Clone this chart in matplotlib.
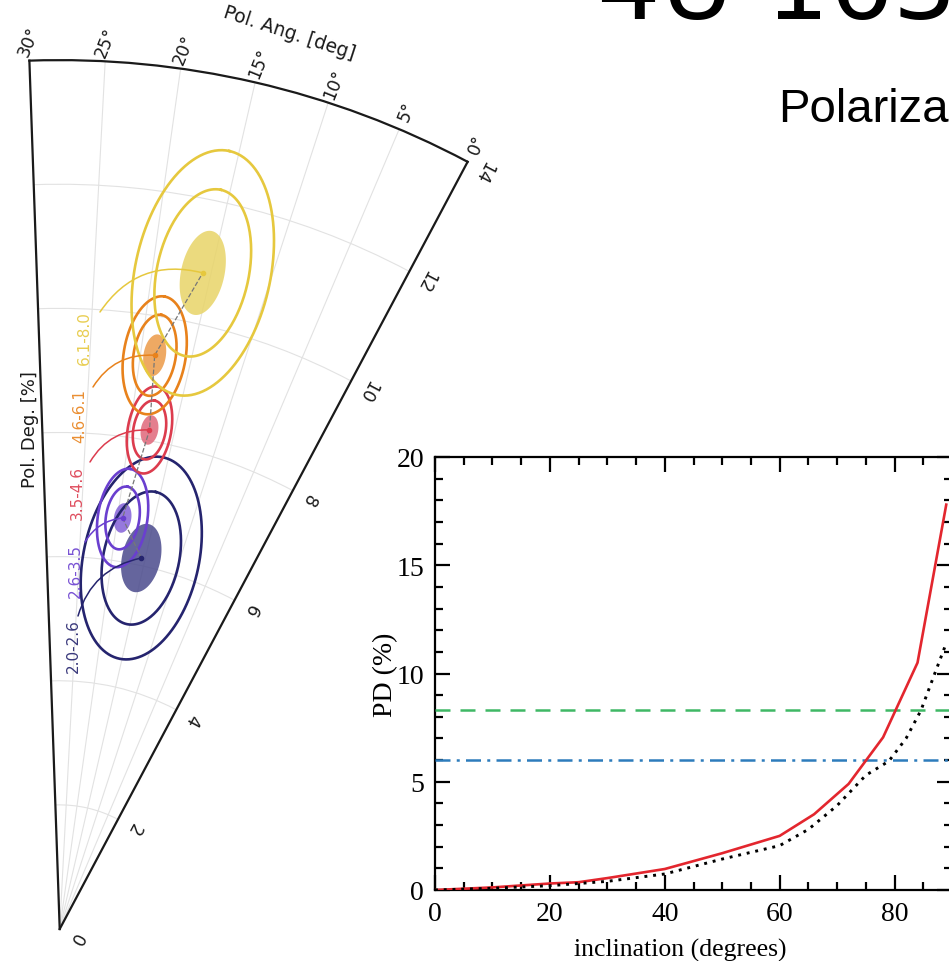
import numpy as np
import matplotlib
matplotlib.use("Agg")
import matplotlib.pyplot as plt
from matplotlib.transforms import offset_copy

# ---------------- data: polarization wedge ----------------
bins = ["2.0-2.6", "2.6-3.5", "3.5-4.6", "4.6-6.1", "6.1-8.0"]
pol_deg = [6.12, 6.70, 8.17, 9.37, 10.82]          # PD [%]
pol_ang = [15.6, 19.3, 17.8, 18.6, 15.7]           # PA [deg]
# semi-axes (radial, tangential) in PD units for the filled, inner and outer contours
fill_axes = [(0.56, 0.31), (0.24, 0.14), (0.24, 0.14), (0.34, 0.18), (0.69, 0.35)]
inner_axes = [(1.09, 0.61), (0.51, 0.27), (0.48, 0.26), (0.66, 0.34), (1.37, 0.74)]
outer_axes = [(1.66, 0.93), (0.80, 0.40), (0.71, 0.35), (0.96, 0.50), (2.01, 1.09)]
line_colors = ["#25246e", "#6a3fcf", "#dc3c4e", "#e8821c", "#e6c83e"]
fill_colors = ["#4a4a8c", "#8462d8", "#e0677a", "#ec9a48", "#e8d468"]

theta_ticks = [0, 5, 10, 15, 20, 25, 30]
r_ticks = [0, 2, 4, 6, 8, 10, 12, 14]

# ---------------- data: PD vs inclination ----------------
incl_red = [0, 10, 20, 25, 30, 40, 50, 60, 66, 72, 78, 84, 89]
pd_red = [0.0, 0.12, 0.3, 0.36, 0.55, 0.97, 1.7, 2.5, 3.5, 4.9, 7.05, 10.5, 17.8]
incl_dot = [0, 10, 20, 30, 40, 50, 60, 65, 70, 75, 79, 82, 84.6, 87, 89]
pd_dot = [0.0, 0.08, 0.2, 0.4, 0.74, 1.43, 2.05, 2.8, 3.9, 5.3, 5.95, 7.0, 8.3, 10.0, 11.4]
pd_green = 8.3
pd_blue = 6.0

W, H = 949, 962
fig = plt.figure(figsize=(W / 100, H / 100), dpi=100)

# ================= polar wedge =================
side = 871.0
cx, cy = 248.5, 494.5
ax = fig.add_axes([(cx - side / 2) / W, (H - cy - side / 2) / H, side / W, side / H],
                  projection="polar")
ax.set_thetamin(0)
ax.set_thetamax(30)
ax.set_theta_offset(np.deg2rad(62))
ax.set_rlim(0, 14)
ax.set_xticks(np.deg2rad(theta_ticks))
ax.set_xticklabels([""] * len(theta_ticks))
ax.set_yticks(r_ticks)
ax.set_yticklabels([""] * len(r_ticks))
ax.grid(True, color="#e2e2e2", lw=0.8)
for sp in ax.spines.values():
    sp.set_linewidth(1.6)
    sp.set_color("#1a1a1a")
ax.tick_params(length=0)


def ellipse(pa_deg, pd, ar, at, n=240):
    th = np.deg2rad(pa_deg)
    t = np.linspace(0, 2 * np.pi, n)
    ur = np.array([np.cos(th), np.sin(th)])
    ut = np.array([-np.sin(th), np.cos(th)])
    P = (pd * ur)[:, None] + ar * np.cos(t)[None, :] * ur[:, None] + at * np.sin(t)[None, :] * ut[:, None]
    return np.arctan2(P[1], P[0]), np.hypot(P[0], P[1])


for i in range(len(bins)):
    tf, rf = ellipse(pol_ang[i], pol_deg[i], *fill_axes[i])
    ax.fill(tf, rf, color=fill_colors[i], alpha=0.85, lw=0, zorder=3)
    for axes_ in (inner_axes[i], outer_axes[i]):
        tl, rl = ellipse(pol_ang[i], pol_deg[i], *axes_)
        ax.plot(tl, rl, color=line_colors[i], lw=1.9, zorder=4)

ax.plot(np.deg2rad(pol_ang), pol_deg, ls="--", color="#777777", lw=0.9, zorder=5)
for i in range(len(bins)):
    ax.plot(np.deg2rad(pol_ang[i]), pol_deg[i], "o", color=line_colors[i], ms=3, zorder=6)

# bin labels with curved connectors (positions in figure pixels, from top)
label_pos = [(73, 646), (75, 571), (77, 493), (80, 416), (84, 338)]
label_start = [(78, 617), (85, 543), (90, 463), (93, 388), (100, 313)]
label_rad = [-0.3, -0.25, -0.3, -0.3, -0.35]
for i in range(len(bins)):
    fig.text(label_pos[i][0] / W, (H - label_pos[i][1]) / H, bins[i], rotation=90,
             ha="center", va="center", color=line_colors[i], fontsize=11, alpha=0.9)
    ax.annotate("", xy=(np.deg2rad(pol_ang[i]), pol_deg[i]), xycoords="data",
                xytext=(label_start[i][0], H - label_start[i][1]), textcoords="figure pixels",
                arrowprops=dict(arrowstyle="-", color=line_colors[i], lw=1.1,
                                connectionstyle="arc3,rad=%g" % label_rad[i],
                                shrinkA=0, shrinkB=0), zorder=5)

# theta tick labels
for d in theta_ticks:
    ax.text(np.deg2rad(d), 14.32, "%d°" % d, rotation=68, ha="center", va="center",
            fontsize=12.5, color="#1a1a1a", clip_on=False)
# radial tick labels along the 0° edge
roff = offset_copy(ax.transData, fig=fig, x=16, y=-9, units="dots")
for r in r_ticks:
    ax.text(0, r, str(r), transform=roff, rotation=-118, ha="center", va="center",
            fontsize=12.5, color="#1a1a1a", clip_on=False)

fig.text(289 / W, (H - 33) / H, "Pol. Ang. [deg]", rotation=-18, ha="center", va="center",
         fontsize=13.5, color="#1a1a1a")
fig.text(30 / W, (H - 430) / H, "Pol. Deg. [%]", rotation=90, ha="center", va="center",
         fontsize=13, color="#1a1a1a")

# ================= PD vs inclination =================
L, R, T, B = 435, 952, 458, 891
bx = fig.add_axes([L / W, (H - B) / H, (R - L) / W, (B - T) / H])
serif = "Liberation Serif"
bx.plot(incl_red, pd_red, color="#e3262e", lw=1.9, zorder=4)
bx.plot(incl_dot, pd_dot, color="black", lw=2.1, ls=(0, (1, 2)), zorder=4)
bx.axhline(pd_green, color="#3fb865", lw=1.8, ls=(0, (6, 4)), zorder=3)
bx.axhline(pd_blue, color="#2d7cbc", lw=1.8, ls=(0, (6, 2.5, 1.2, 2.5)), zorder=3)
bx.set_xlim(0, 90)
bx.set_ylim(0, 20)
bx.set_xticks([0, 20, 40, 60, 80])
bx.set_xticks(np.arange(0, 91, 5), minor=True)
bx.set_yticks([0, 5, 10, 15, 20])
bx.set_yticks(np.arange(0, 21, 1), minor=True)
bx.tick_params(which="both", direction="in", top=True, right=True, width=1.6, color="black")
bx.tick_params(which="major", length=11, labelsize=20, pad=8)
bx.tick_params(which="minor", length=6)
for lab in bx.get_xticklabels() + bx.get_yticklabels():
    lab.set_fontfamily(serif)
for sp in bx.spines.values():
    sp.set_linewidth(1.6)
bx.set_xlabel("inclination (degrees)", fontsize=18.5, fontfamily=serif, labelpad=2)
bx.xaxis.set_label_coords((680 - L) / (R - L), -0.11)
bx.set_ylabel("PD (%)", fontsize=20, fontfamily=serif)
bx.yaxis.set_label_coords(-(L - 398) / (R - L), 0.5)

# ================= slide text =================
fig.text(597 / W, (H - 19) / H, "4U 1630-47", fontsize=72, family="DejaVu Sans",
         ha="left", va="baseline", color="black")
fig.text(778 / W, (H - 122) / H, "Polarization", fontsize=34, family="Liberation Sans",
         ha="left", va="baseline", color="black")

fig.savefig("out.png", dpi=100)
